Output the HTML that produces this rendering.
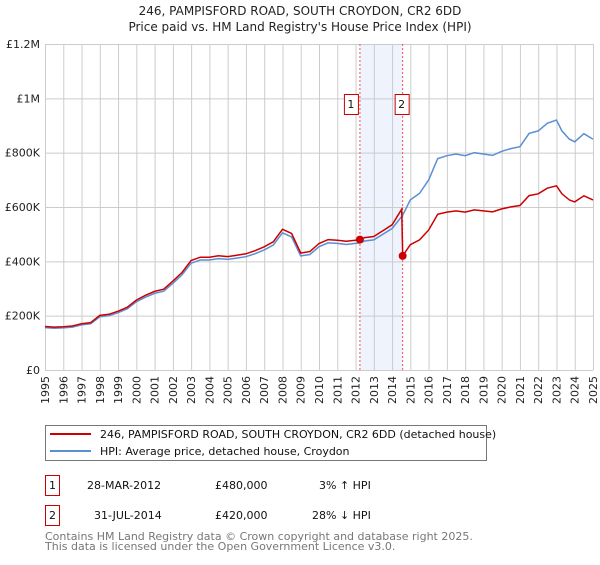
<!DOCTYPE html>
<html><head><meta charset="utf-8"><style>
body{margin:0;background:#fff;}
svg text{font-family:"DejaVu Sans","Liberation Sans",sans-serif;}
</style></head><body>
<svg id="chart" width="600" height="560" xmlns="http://www.w3.org/2000/svg">
<text x="300" y="15" text-anchor="middle" font-size="12" fill="#222">246, PAMPISFORD ROAD, SOUTH CROYDON, CR2 6DD</text>
<text x="300" y="31" text-anchor="middle" font-size="12" fill="#222">Price paid vs. HM Land Registry's House Price Index (HPI)</text>
<g id="grid"></g>
<g id="marks"></g>
<g>
<rect x="45.5" y="425.5" width="441" height="35" fill="#fff" stroke="#777"/>
<line x1="50" y1="434" x2="91" y2="434" stroke="#cc0000" stroke-width="2"/>
<text x="100" y="438" font-size="11" fill="#111">246, PAMPISFORD ROAD, SOUTH CROYDON, CR2 6DD (detached house)</text>
<line x1="50" y1="451" x2="91" y2="451" stroke="#5b8fd4" stroke-width="2"/>
<text x="100" y="455" font-size="11" fill="#111">HPI: Average price, detached house, Croydon</text>
</g>
<g font-size="11" fill="#111">
<rect x="45.5" y="475.5" width="14" height="20" fill="#fff" stroke="#cc0000"/>
<text x="52.5" y="489" text-anchor="middle">1</text>
<text x="87" y="489">28-MAR-2012</text>
<text x="215" y="489">£480,000</text>
<text x="319" y="489">3% ↑ HPI</text>
<rect x="45.5" y="505.5" width="14" height="20" fill="#fff" stroke="#cc0000"/>
<text x="52.5" y="519" text-anchor="middle">2</text>
<text x="94" y="519">31-JUL-2014</text>
<text x="215" y="519">£420,000</text>
<text x="312" y="519">28% ↓ HPI</text>
</g>
<text x="45" y="540" font-size="11" fill="#777">Contains HM Land Registry data © Crown copyright and database right 2025.</text>
<text x="45" y="550" font-size="11" fill="#777">This data is licensed under the Open Government Licence v3.0.</text>
</svg>
<script>
const hpiYears=[1995,1995.5,1996,1996.5,1997,1997.5,1998,1998.5,1999,1999.5,2000,2000.5,2001,2001.5,2002,2002.5,2003,2003.5,2004,2004.5,2005,2005.5,2006,2006.5,2007,2007.5,2008,2008.5,2009,2009.5,2010,2010.5,2011,2011.5,2012,2012.24,2012.5,2013,2013.5,2014,2014.58,2015,2015.5,2016,2016.5,2017,2017.5,2018,2018.5,2019,2019.5,2020,2020.5,2021,2021.5,2022,2022.5,2023,2023.3,2023.7,2024,2024.5,2025];
const hpiValues=[156,154,155,158,166,170,196,200,211,225,251,268,282,290,319,350,393,405,405,410,407,412,417,428,442,460,505,490,420,425,454,468,466,462,466,468,475,479,500,521,570,626,650,699,778,789,795,789,800,795,790,805,815,822,871,880,908,920,880,850,840,870,850];
const saleYears=[2012.24,2014.58];
const salePrices=[480,420];
const saleLabels=["1","2"];
const yTicks=[0,200,400,600,800,1000,1200];
const yTickLabels=["£0","£200K","£400K","£600K","£800K","£1M","£1.2M"];
const xTicks=[1995,1996,1997,1998,1999,2000,2001,2002,2003,2004,2005,2006,2007,2008,2009,2010,2011,2012,2013,2014,2015,2016,2017,2018,2019,2020,2021,2022,2023,2024,2025];

const X0=45,X1=593,Y0=370,Y1=44;
const xS=y=>X0+(y-1995)/30*(X1-X0);
const yS=v=>Y0-v/1200*(Y0-Y1);
const NS="http://www.w3.org/2000/svg";
function mk(tag,attrs,parent){const e=document.createElementNS(NS,tag);for(const k in attrs)e.setAttribute(k,attrs[k]);parent.appendChild(e);return e;}
const grid=document.getElementById('grid'),marks=document.getElementById('marks');
// shaded band
let band=mk('rect',{x:xS(saleYears[0]),y:Y1,width:xS(saleYears[1])-xS(saleYears[0]),height:Y0-Y1,fill:'#eef3fd'},grid);


yTicks.forEach((t,i)=>{
  const l=mk('line',{x1:X0,x2:X1,y1:yS(t)+0.5,y2:yS(t)+0.5,stroke:'#ccc'},grid);
  
  
  const tx=mk('text',{x:40,y:yS(t)+4,'text-anchor':'end','font-size':11,fill:'#222'},grid);
  tx.textContent=yTickLabels[i];
  
  
});
xTicks.forEach(t=>{
  const l=mk('line',{x1:xS(t)+0.5,x2:xS(t)+0.5,y1:Y1,y2:Y0,stroke:'#ccc'},grid);
  
  
  const tx=mk('text',{transform:`translate(${xS(t)+4},${Y0+6}) rotate(-90)`,'text-anchor':'end','font-size':11,fill:'#222'},grid);
  tx.textContent=t;
  
  
});
function hpiAt(y){for(let i=0;i<hpiYears.length-1;i++){if(y<=hpiYears[i+1]){const f=(y-hpiYears[i])/(hpiYears[i+1]-hpiYears[i]);return hpiValues[i]+f*(hpiValues[i+1]-hpiValues[i]);}}return hpiValues[hpiValues.length-1];}
// sale vlines
saleYears.forEach((s,i)=>{
  const l=mk('line',{x1:xS(s),x2:xS(s),y1:Y1,y2:Y0,stroke:'#e55','stroke-dasharray':'2,2'},marks);
  
  
});
// HPI line
let hp=hpiYears.map((y,i)=>`${xS(y).toFixed(1)},${yS(hpiValues[i]).toFixed(1)}`).join(' ');
const hl=mk('polyline',{points:hp,fill:'none',stroke:'#5b8fd4','stroke-width':1.5},marks);


// property line
const f1=salePrices[0]/hpiAt(saleYears[0]),f2=salePrices[1]/hpiAt(saleYears[1]);
let pts=[];
hpiYears.forEach((y,i)=>{if(y<saleYears[1])pts.push([y,hpiValues[i]*f1*1.0]);});
pts.push([saleYears[1]-0.05,hpiAt(saleYears[1]-0.05)*f1*1.02]);
pts.push([saleYears[1],salePrices[1]]);
hpiYears.forEach((y,i)=>{if(y>saleYears[1])pts.push([y,hpiValues[i]*f2]);});
const pl=mk('polyline',{points:pts.map(p=>`${xS(p[0]).toFixed(1)},${yS(p[1]).toFixed(1)}`).join(' '),fill:'none',stroke:'#cc0000','stroke-width':1.5},marks);


saleYears.forEach((s,i)=>{
  const c=mk('circle',{cx:xS(s),cy:yS(salePrices[i]),r:4,fill:'#cc0000'},marks);
  
  
  const bx=xS(s)-(i==0?11:2);
  const r=mk('rect',{x:xS(s)-(i==0?16:8)+0.5,y:94.5,width:14,height:20,fill:'#fff',stroke:'#cc0000'},marks);
  
  
  const t=mk('text',{x:xS(s)-(i==0?9:1),y:108,'text-anchor':'middle','font-size':11,fill:'#111'},marks);
  t.textContent=saleLabels[i];
  
  
});
</script>
</body></html>
